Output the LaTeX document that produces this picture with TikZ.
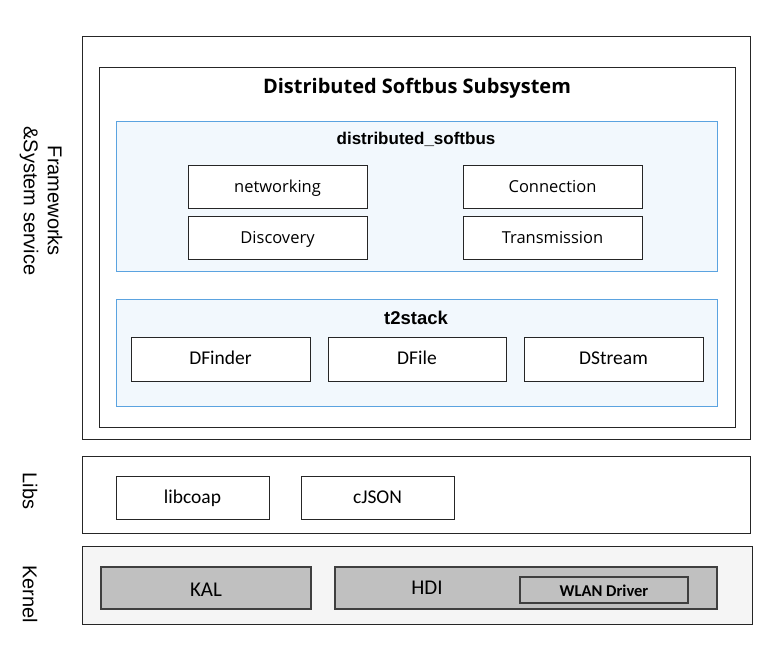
\documentclass[tikz,border=0pt]{standalone}
\usepackage{fontspec}
\setmainfont{Open Sans}
\newfontfamily\arialf{Liberation Sans}
\newfontfamily\narrowf{Carlito}
\definecolor{blueline}{HTML}{5BA3E0}
\definecolor{bluefill}{HTML}{F2F8FD}
\definecolor{kfill}{HTML}{F5F5F5}
\definecolor{gfill}{HTML}{C0C0C0}
\definecolor{gline}{HTML}{3F3F3F}
\tikzset{
  frame/.style={draw=black!85, line width=0.9pt, fill=white},
  pkg/.style={draw=blueline, line width=0.9pt, fill=bluefill},
  modbox/.style={draw=black!85, line width=0.9pt, fill=white, text height=12.5pt, text depth=0pt, font=\fontsize{16.5}{18}\selectfont},
  nbox/.style={draw=black!85, line width=0.9pt, fill=white, text height=11.5pt, text depth=0pt, font=\narrowf\fontsize{19.5}{21}\selectfont},
  kbox/.style={draw=gline, line width=1.6pt, fill=gfill},
  side/.style={rotate=-90, align=center, font=\arialf\fontsize{20}{24}\selectfont},
}
\begin{document}
\begin{tikzpicture}[x=1pt,y=-1pt]
\useasboundingbox (0,0) rectangle (781,651);
% Frameworks
\draw[frame] (82,36) rectangle (750,439);
\node[side] (fw) at (41,201) {Frameworks\\\&System service};
\draw[frame] (99,67) rectangle (735,427);
\node[anchor=base, font=\bfseries\fontsize{20}{22}\selectfont] (title) at (417,93) {Distributed Softbus Subsystem};
% distributed_softbus
\draw[pkg] (116,121) rectangle (717,271);
\node[font=\arialf\bfseries\fontsize{17}{19}\selectfont] (dsb) at (416,139) {distributed\_softbus};
\node[modbox, minimum width=179pt, minimum height=43pt] (net) at (277.5,186.5) {networking};
\node[modbox, minimum width=179pt, minimum height=43pt] (disc) at (277.5,237.5) {Discovery};
\node[modbox, minimum width=179pt, minimum height=43pt] (conn) at (552.5,186.5) {Connection};
\node[modbox, minimum width=179pt, minimum height=43pt] (trans) at (552.5,237.5) {Transmission};
% t2stack
\draw[pkg] (116,299) rectangle (717,406);
\node[font=\arialf\bfseries\fontsize{18.5}{20}\selectfont] (t2) at (416,318) {t2stack};
\node[nbox, minimum width=179pt, minimum height=44pt] (dfinder) at (220.5,359) {DFinder};
\node[nbox, minimum width=178pt, minimum height=44pt] (dfile) at (417,359) {DFile};
\node[nbox, minimum width=179pt, minimum height=44pt] (dstream) at (613.5,359) {DStream};
% Libs
\draw[frame] (82,456) rectangle (750,533);
\node[side] (libs) at (30,491) {Libs};
\node[nbox, minimum width=153pt, minimum height=43pt] (coap) at (192.5,497.5) {libcoap};
\node[nbox, minimum width=153pt, minimum height=43pt] (json) at (377.5,497.5) {cJSON};
% Kernel
\draw[draw=black!85, line width=0.9pt, fill=kfill] (82,546) rectangle (752,624);
\node[side] (kern) at (30,594) {Kernel};
\draw[kbox] (101,567) rectangle (311,609);
\node[font=\narrowf\fontsize{21}{23}\selectfont] (kal) at (206,590) {KAL};
\draw[kbox] (335,567) rectangle (717,609);
\node[font=\narrowf\fontsize{21}{23}\selectfont] (hdi) at (427,588) {HDI};
\draw[kbox] (520,577) rectangle (688,603);
\node[font=\narrowf\bfseries\fontsize{16.5}{18}\selectfont] (wlan) at (604,591) {WLAN Driver};
\end{tikzpicture}
\end{document}
